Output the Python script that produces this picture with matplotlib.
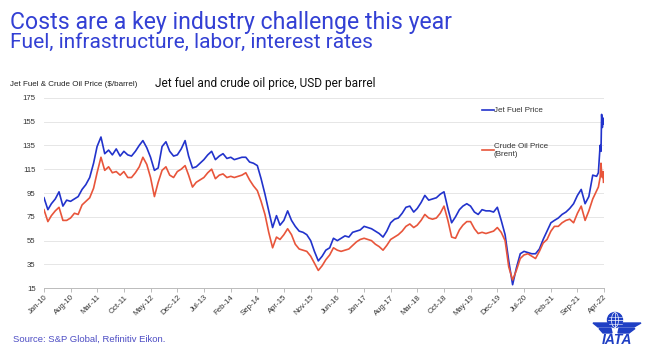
import pandas as pd
import matplotlib.pyplot as plt
import matplotlib.dates as mdates
from matplotlib.patches import Circle, Ellipse, Polygon

# Monthly readings, Jan-2010 .. Feb-2022 (USD per barrel)
jet_monthly = [
    91, 81, 86, 90, 96, 84, 89, 88, 90, 92, 98, 102,
    108, 120, 134, 142, 128, 131, 127, 132, 126, 130, 127, 126,
    130, 135, 139, 133, 125, 114, 116, 134, 138, 130, 126, 127,
    132, 139, 126, 116, 117, 120, 123, 127, 130, 123, 126, 128,
    124, 125, 123, 124, 125, 125, 121, 120, 118, 107, 94, 80,
    66, 76, 68, 72, 80, 72, 67, 63, 62, 60, 55, 46,
    38, 42, 47, 49, 57, 55, 57, 59, 58, 62, 63, 64,
    67, 66, 65, 63, 61, 58, 63, 70, 73, 74, 78, 83,
    84, 79, 82, 87, 93, 89, 90, 91, 94, 96, 82, 70,
    75, 81, 84, 86, 84, 79, 77, 81, 80, 80, 79, 83,
    72, 60, 38, 18, 32, 44, 46, 45, 44, 44, 48, 56,
    63, 70, 72, 74, 77, 79, 82, 86, 93, 98, 86, 92,
    110, 109,
]
brent_monthly = [
    81, 71, 76, 80, 83, 72, 72, 74, 78, 77, 85, 88,
    91, 99, 112, 125, 114, 117, 112, 113, 110, 113, 108, 108,
    112, 117, 125, 119, 108, 92, 104, 114, 117, 110, 108, 113,
    115, 118, 110, 100, 104, 106, 108, 112, 115, 107, 110, 111,
    108, 109, 108, 109, 110, 112, 106, 101, 97, 88, 77, 62,
    49, 58, 56, 60, 65, 60, 52, 48, 47, 46, 42, 36,
    30, 34, 39, 43, 49, 47, 46, 47, 48, 51, 54, 56,
    57, 56, 55, 52, 50, 47, 51, 56, 58, 60, 63, 67,
    69, 66, 68, 72, 77, 74, 73, 74, 78, 84, 72, 58,
    57, 64, 68, 71, 71, 65, 61, 62, 61, 62, 63, 66,
    62, 55, 33, 22, 30, 40, 43, 44, 42, 40, 46, 53,
    56, 63, 67, 67, 70, 72, 73, 70, 78, 84, 72, 80,
    90, 97,
]

# Finer readings for the 2022 spike
tail_dates = ["2022-02-15", "2022-03-01", "2022-03-08", "2022-03-13", "2022-03-19", "2022-03-24", "2022-03-28"]
jet_tail = [112, 135, 130, 161, 150, 158, 153]
brent_tail = [100, 108, 120, 112, 108, 113, 104]

dates = list(pd.date_range("2010-01-01", "2022-02-01", freq="MS")) + list(pd.to_datetime(tail_dates))
jet = jet_monthly + jet_tail
brent = brent_monthly + brent_tail

tick_dates = pd.date_range("2010-01-01", "2022-04-01", freq="7MS")
y_ticks = list(range(15, 176, 20))

blue_title = "#3340d4"
jet_color = "#2233cc"
brent_color = "#e8553b"

fig = plt.figure(figsize=(6.47, 3.61), dpi=100)

# titles
fig.text(10 / 647, 1 - 29 / 361, "Costs are a key industry challenge this year",
         fontsize=16.6, color=blue_title, family="Roboto", va="baseline")
fig.text(10 / 647, 1 - 48 / 361, "Fuel, infrastructure, labor, interest rates",
         fontsize=15, color=blue_title, family="Roboto", va="baseline")
fig.text(10 / 647, 1 - 86 / 361, "Jet Fuel & Crude Oil Price ($/barrel)",
         fontsize=5.8, color="#222222", family="Liberation Sans", va="baseline")
fig.text(155 / 647, 1 - 87 / 361, "Jet fuel and crude oil price, USD per barrel",
         fontsize=8.55, color="#111111", family="Roboto", va="baseline")

ax = fig.add_axes([44 / 647, 1 - 288.3 / 361, 560 / 647, 190.6 / 361])
ax.plot(dates, jet, color=jet_color, lw=1.2, label="Jet Fuel Price")
ax.plot(dates, brent, color=brent_color, lw=1.2, label="Crude Oil Price\n(Brent)")

ax.set_ylim(15, 175)
ax.set_xlim(tick_dates[0], tick_dates[-1])
ax.set_yticks(y_ticks)
ax.set_xticks(tick_dates)
ax.xaxis.set_major_formatter(mdates.DateFormatter("%b-%y"))
ax.grid(axis="y", color="#e6e6e6", lw=0.7)
ax.set_axisbelow(True)
for s in ["top", "right", "left"]:
    ax.spines[s].set_visible(False)
ax.spines["bottom"].set_color("#bbbbbb")
ax.spines["bottom"].set_linewidth(0.7)
ax.tick_params(axis="y", length=0, labelsize=5.6, labelcolor="#333333", pad=6)
ax.tick_params(axis="x", length=3, color="#bbbbbb", width=0.7, labelsize=5.6, labelcolor="#333333", pad=1)
for lab in ax.get_xticklabels() + ax.get_yticklabels():
    lab.set_family("Liberation Sans")
plt.setp(ax.get_xticklabels(), rotation=45, ha="right", rotation_mode="anchor")

leg = ax.legend(loc="upper left", bbox_to_anchor=(0.77, 0.99), frameon=False,
                handlelength=1.4, handletextpad=0.0, labelspacing=3.5,
                prop={"family": "Liberation Sans", "size": 5.8})
for t in leg.get_texts():
    t.set_color("#333333")

fig.text(13 / 647, 1 - 342 / 361, "Source: S&P Global, Refinitiv Eikon.",
         fontsize=6.8, color="#4d4dc4", family="Liberation Sans", va="baseline")

# IATA logo (pixel-like units: 59 x 42)
logo = fig.add_axes([588 / 647, 1 - 348 / 361, 59 / 647, 42 / 361])
logo.set_xlim(0, 59)
logo.set_ylim(0, 42)
logo.axis("off")
logo_blue = "#1f3fc4"
logo.add_patch(Circle((27, 28), 7.5, color=logo_blue))
logo.add_patch(Ellipse((27, 28), 7, 15, fill=False, ec="white", lw=0.5))
logo.plot([27, 27], [20.5, 35.5], color="white", lw=0.5)
logo.plot([19.5, 34.5], [28, 28], color="white", lw=0.5)
logo.plot([20.5, 33.5], [31.5, 31.5], color="white", lw=0.4)
logo.plot([20.5, 33.5], [24.5, 24.5], color="white", lw=0.4)
logo.add_patch(Polygon([[5, 25], [21, 25], [23, 21], [10, 21]], color=logo_blue))
logo.add_patch(Polygon([[53, 25], [33, 25], [31, 21], [46, 21]], color=logo_blue))
logo.add_patch(Polygon([[11, 19.5], [23, 19.5], [24, 15], [15, 15]], color=logo_blue))
logo.add_patch(Polygon([[47, 19.5], [31, 19.5], [30, 15], [41, 15]], color=logo_blue))
logo.text(28.5, 4.5, "IATA", ha="center", va="baseline", fontsize=10, fontweight="bold",
          style="italic", color=logo_blue, family="Liberation Sans")

fig.savefig("out.png", dpi=100)
